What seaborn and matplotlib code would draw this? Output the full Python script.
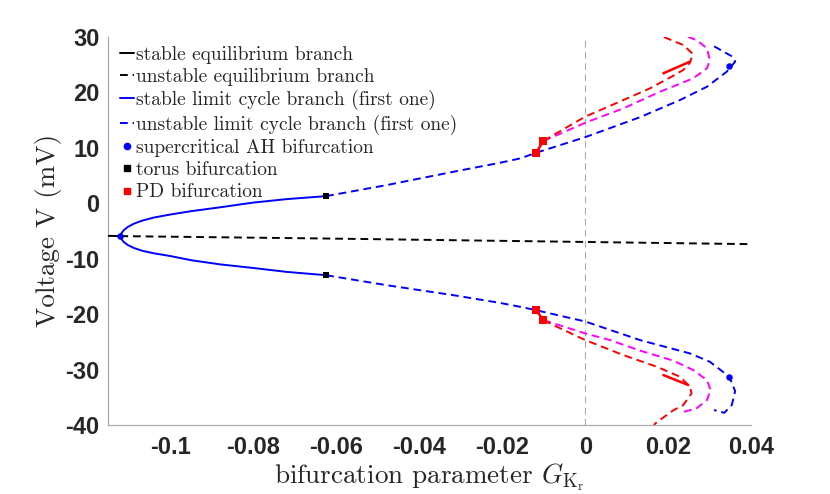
import matplotlib
matplotlib.use("Agg")
import matplotlib.pyplot as plt
from matplotlib.lines import Line2D
import seaborn as sns

# ---- data ----
# equilibrium branch
eq_stable_x = [-0.1151, -0.1121]
eq_stable_y = [-5.90, -5.95]
eq_unstable_x = [-0.1121, -0.0640, -0.0206, 0.0400]
eq_unstable_y = [-5.95, -6.37, -6.80, -7.40]

# stable limit cycle (through the AH point)
lc_stable_x = [-0.0625, -0.0720, -0.0800, -0.0880, -0.0950, -0.1000, -0.1040, -0.1068,
               -0.1088, -0.1103, -0.1113, -0.1119, -0.1121,
               -0.1119, -0.1113, -0.1103, -0.1088, -0.1068, -0.1040, -0.1000,
               -0.0950, -0.0880, -0.0800, -0.0720, -0.0625]
lc_stable_y = [1.26, 0.72, 0.10, -0.75, -1.45, -2.05, -2.60, -3.15,
               -3.70, -4.30, -4.90, -5.50, -5.95,
               -6.40, -7.00, -7.55, -8.10, -8.60, -9.05, -9.55,
               -10.30, -11.05, -11.70, -12.40, -13.00]

# unstable limit cycle, upper and lower parts
lc_up_x = [-0.0625, -0.0479, -0.0318, -0.0206, -0.0157, -0.0119, 0.0, 0.0132,
           0.0228, 0.0293, 0.0341, 0.0361, 0.0355, 0.0333, 0.0305]
lc_up_y = [1.26, 3.25, 5.65, 7.27, 8.06, 9.07, 11.90, 15.50,
           18.58, 20.98, 23.70, 25.50, 26.40, 27.30, 28.50]
lc_lo_x = [-0.0625, -0.0479, -0.0318, -0.0206, -0.0157, -0.0119, 0.0, 0.0132,
           0.0252, 0.0300, 0.0347, 0.0361, 0.0353, 0.0335, 0.0310]
lc_lo_y = [-13.00, -14.80, -16.60, -17.99, -18.70, -19.30, -21.35, -24.70,
           -27.10, -28.60, -31.30, -33.90, -36.40, -37.80, -37.30]

# period-doubled branch (magenta dashed)
pd_up_x = [-0.0101, 0.0, 0.00916, 0.0180, 0.0260, 0.0293, 0.0300, 0.0293, 0.0270, 0.0244]
pd_up_y = [11.20, 14.50, 17.08, 20.08, 22.50, 24.30, 25.80, 27.90, 29.30, 30.10]
pd_lo_x = [-0.0101, 0.0, 0.00595, 0.0132, 0.0212, 0.0260, 0.0293, 0.0302, 0.0293, 0.0268, 0.0236]
pd_lo_y = [-21.10, -23.50, -24.70, -26.60, -28.40, -30.10, -31.90, -33.70, -35.50, -37.00, -37.65]

# second branch (red dashed) and its short stable pieces
red_up_x = [-0.0101, -0.0077, 0.0, 0.00916, 0.0156, 0.0208, 0.0236, 0.0252, 0.0259, 0.0236, 0.0184]
red_up_y = [11.20, 12.27, 15.60, 18.58, 20.70, 22.80, 24.00, 25.30, 26.90, 28.50, 30.10]
red_lo_x = [-0.0101, -0.0077, 0.0, 0.00916, 0.0172, 0.0228, 0.0252, 0.0256, 0.0236, 0.0212, 0.0172, 0.0165]
red_lo_y = [-21.10, -22.00, -24.70, -27.40, -29.50, -31.30, -33.10, -34.30, -36.40, -37.35, -39.50, -40.00]
red_tip_up_x = [0.0188, 0.0252]
red_tip_up_y = [23.40, 25.50]
red_tip_lo_x = [0.0188, 0.0248]
red_tip_lo_y = [-31.00, -32.80]
red_link_up_x = [-0.0119, -0.0101]
red_link_up_y = [9.07, 11.20]
red_link_lo_x = [-0.0119, -0.0101]
red_link_lo_y = [-19.30, -21.10]

# bifurcation points
ah_x = [-0.1121, 0.0347, 0.0347]
ah_y = [-5.95, 24.70, -31.30]
torus_x = [-0.0625, -0.0625]
torus_y = [1.26, -13.00]
pdb_x = [-0.0119, -0.0101, -0.0119, -0.0101]
pdb_y = [9.07, 11.20, -19.30, -21.10]

xticks = [-0.1, -0.08, -0.06, -0.04, -0.02, 0, 0.02, 0.04]
xtick_labels = ["-0.1", "-0.08", "-0.06", "-0.04", "-0.02", "0", "0.02", "0.04"]
yticks = [-40, -30, -20, -10, 0, 10, 20, 30]
ytick_labels = ["-40", "-30", "-20", "-10", "0", "10", "20", "30"]

legend_labels = ["stable equilibrium branch", "unstable equilibrium branch",
                 "stable limit cycle branch (first one)",
                 "unstable limit cycle branch (first one)",
                 "supercritical AH bifurcation", "torus bifurcation", "PD bifurcation"]

# ---- style ----
sns.set_style("white")
plt.rcParams["axes.unicode_minus"] = False
plt.rcParams["mathtext.fontset"] = "cm"

BLUE, RED, MAG, BLK = "#0000ff", "#ff0000", "#ff00ff", "#000000"
AXC = "#aaaaaa"
TXT = "#262626"
DASH = (0, (4, 2.5))
LW = 1.4

fig = plt.figure(figsize=(8.3, 4.94), dpi=100)
ax = fig.add_axes([0.130, 0.1397, 0.7752, 0.786])

ax.axvline(0, color=AXC, lw=0.8, ls=(0, (6, 4)), zorder=1)


def curve(x, y, color, dashed, lw=LW):
    sns.lineplot(x=x, y=y, sort=False, estimator=None, color=color, lw=lw,
                 linestyle=DASH if dashed else "-", ax=ax, zorder=3)


curve(eq_stable_x, eq_stable_y, BLK, False)
curve(eq_unstable_x, eq_unstable_y, BLK, True)
curve(lc_stable_x, lc_stable_y, BLUE, False)
curve(lc_up_x, lc_up_y, BLUE, True)
curve(lc_lo_x, lc_lo_y, BLUE, True)
curve(pd_up_x, pd_up_y, MAG, True)
curve(pd_lo_x, pd_lo_y, MAG, True)
curve(red_up_x, red_up_y, RED, True)
curve(red_lo_x, red_lo_y, RED, True)
curve(red_tip_up_x, red_tip_up_y, RED, False, 1.8)
curve(red_tip_lo_x, red_tip_lo_y, RED, False, 1.8)
curve(red_link_up_x, red_link_up_y, RED, False, 1.8)
curve(red_link_lo_x, red_link_lo_y, RED, False, 1.8)

sns.scatterplot(x=ah_x, y=ah_y, color=BLUE, marker="o", s=22, linewidth=0, ax=ax, zorder=5)
sns.scatterplot(x=torus_x, y=torus_y, color=BLK, marker="s", s=22, linewidth=0, ax=ax, zorder=5)
sns.scatterplot(x=pdb_x, y=pdb_y, color=RED, marker="s", s=30, linewidth=0, ax=ax, zorder=5)

ax.set_xlim(-0.1151, 0.04)
ax.set_ylim(-40, 30)
ax.set_xticks(xticks)
ax.set_xticklabels(xtick_labels)
ax.set_yticks(yticks)
ax.set_yticklabels(ytick_labels)
for lab in ax.get_xticklabels() + ax.get_yticklabels():
    lab.set_fontfamily("Liberation Sans")
    lab.set_fontweight("bold")
    lab.set_fontsize(17)
    lab.set_color(TXT)
ax.tick_params(direction="in", length=5, width=0.8, color=AXC)
ax.tick_params(axis="x", pad=8)
ax.tick_params(axis="y", pad=6)

sns.despine(ax=ax)
for side in ["left", "bottom"]:
    ax.spines[side].set_color(AXC)
    ax.spines[side].set_linewidth(0.9)

ax.set_ylabel("Voltage V (mV)", fontfamily="cmr10", fontsize=19.5, color=TXT)
ax.set_xlabel(r"bifurcation parameter $G_{\mathrm{K}_\mathrm{r}}$", fontfamily="cmr10",
              fontsize=19.5, color=TXT)
ax.yaxis.set_label_coords(-0.071, 0.5)
ax.xaxis.set_label_coords(0.5, -0.093)

handles = [
    Line2D([], [], color=BLK, lw=LW),
    Line2D([], [], color=BLK, lw=LW, ls=DASH),
    Line2D([], [], color=BLUE, lw=LW),
    Line2D([], [], color=BLUE, lw=LW, ls=DASH),
    Line2D([], [], color=BLUE, ls="none", marker="o", markersize=4.5),
    Line2D([], [], color=BLK, ls="none", marker="s", markersize=4),
    Line2D([], [], color=RED, ls="none", marker="s", markersize=4),
]
ax.legend(handles, legend_labels, loc="upper left", bbox_to_anchor=(0.0065, 0.997),
          frameon=False, handlelength=0.75, handletextpad=0.1, labelspacing=0.22,
          borderaxespad=0, borderpad=0.4, prop={"family": "cmr10", "size": 14})

fig.savefig("out.png", dpi=100)
